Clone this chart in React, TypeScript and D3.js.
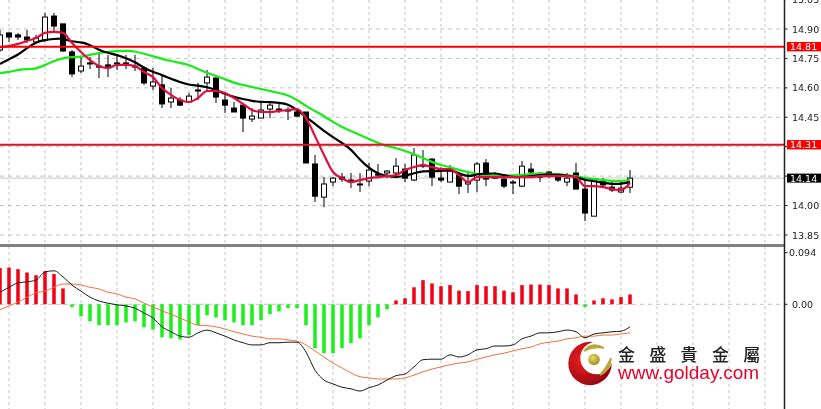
import React from "react";
import * as d3 from "d3";

const opens = [14.793,14.880,14.870,14.859,14.834,14.844,14.966,14.926,14.783,14.686,14.727,14.711,14.717,14.727,14.727,14.711,14.701,14.609,14.615,14.528,14.538,14.528,14.589,14.625,14.650,14.538,14.497,14.512,14.441,14.446,14.492,14.492,14.487,14.477,14.477,14.212,14.043,14.120,14.145,14.130,14.110,14.125,14.161,14.166,14.166,14.186,14.130,14.206,14.237,14.140,14.120,14.155,14.110,14.130,14.217,14.145,14.135,14.120,14.099,14.186,14.150,14.171,14.145,14.120,14.166,14.084,13.946,14.130,14.094,14.069,14.094];
const closes = [14.870,14.859,14.859,14.844,14.854,14.961,14.915,14.788,14.671,14.711,14.722,14.706,14.706,14.722,14.717,14.706,14.625,14.630,14.518,14.548,14.512,14.558,14.584,14.655,14.553,14.512,14.477,14.446,14.456,14.487,14.512,14.487,14.482,14.456,14.217,14.048,14.110,14.140,14.135,14.120,14.105,14.181,14.155,14.176,14.201,14.140,14.258,14.201,14.145,14.130,14.186,14.099,14.120,14.212,14.135,14.140,14.099,14.115,14.201,14.171,14.145,14.161,14.130,14.140,14.084,13.962,14.135,14.105,14.079,14.089,14.140];
const highs = [14.895,14.880,14.880,14.895,14.870,14.982,14.982,14.926,14.793,14.757,14.757,14.778,14.768,14.773,14.768,14.768,14.711,14.701,14.666,14.599,14.553,14.574,14.625,14.691,14.655,14.579,14.528,14.512,14.497,14.528,14.528,14.518,14.502,14.492,14.477,14.258,14.145,14.145,14.166,14.166,14.166,14.217,14.212,14.181,14.242,14.212,14.293,14.283,14.242,14.196,14.206,14.166,14.166,14.222,14.237,14.171,14.145,14.130,14.227,14.217,14.171,14.176,14.166,14.166,14.217,14.130,14.140,14.140,14.130,14.130,14.181];
const lows = [14.783,14.834,14.844,14.829,14.829,14.834,14.880,14.783,14.655,14.676,14.696,14.650,14.655,14.691,14.696,14.686,14.615,14.589,14.497,14.497,14.507,14.523,14.538,14.579,14.523,14.472,14.477,14.375,14.426,14.446,14.446,14.472,14.436,14.451,14.217,14.018,13.992,14.099,14.120,14.089,14.069,14.099,14.140,14.140,14.150,14.120,14.125,14.191,14.099,14.120,14.120,14.059,14.064,14.069,14.099,14.135,14.089,14.059,14.094,14.145,14.120,14.140,14.120,14.099,14.084,13.921,13.946,14.094,14.069,14.064,14.064];

const maSlow = [14.676,14.681,14.691,14.696,14.696,14.717,14.737,14.752,14.757,14.757,14.768,14.778,14.783,14.788,14.788,14.788,14.773,14.762,14.747,14.737,14.727,14.717,14.696,14.676,14.660,14.645,14.625,14.615,14.604,14.594,14.584,14.574,14.564,14.538,14.507,14.482,14.456,14.426,14.400,14.380,14.360,14.339,14.319,14.303,14.293,14.278,14.263,14.242,14.222,14.206,14.196,14.181,14.171,14.161,14.155,14.150,14.150,14.155,14.155,14.161,14.166,14.161,14.161,14.155,14.150,14.140,14.135,14.130,14.125,14.125,14.130];
const maMid = [14.722,14.747,14.768,14.803,14.834,14.844,14.849,14.854,14.834,14.834,14.819,14.793,14.778,14.768,14.752,14.732,14.701,14.681,14.666,14.645,14.630,14.615,14.612,14.604,14.589,14.569,14.553,14.543,14.533,14.528,14.528,14.523,14.518,14.487,14.451,14.416,14.380,14.349,14.319,14.288,14.232,14.191,14.161,14.150,14.145,14.150,14.166,14.176,14.176,14.176,14.181,14.166,14.145,14.161,14.161,14.166,14.155,14.145,14.145,14.150,14.155,14.161,14.155,14.155,14.145,14.130,14.125,14.115,14.110,14.110,14.120];
const maFast = [14.808,14.813,14.824,14.839,14.854,14.880,14.885,14.880,14.829,14.783,14.742,14.711,14.701,14.717,14.717,14.711,14.681,14.655,14.599,14.564,14.538,14.528,14.548,14.584,14.584,14.574,14.548,14.518,14.487,14.477,14.477,14.482,14.487,14.492,14.446,14.354,14.258,14.171,14.140,14.120,14.130,14.140,14.145,14.150,14.155,14.181,14.196,14.206,14.196,14.186,14.186,14.155,14.120,14.145,14.145,14.145,14.145,14.145,14.145,14.145,14.150,14.150,14.150,14.150,14.145,14.099,14.099,14.094,14.084,14.079,14.115];

const macdHist = [.066,.067,.064,.058,.053,.060,.055,.029,-.005,-.022,-.031,-.038,-.038,-.038,-.033,-.031,-.042,-.046,-.060,-.062,-.064,-.056,-.038,-.020,-.024,-.029,-.033,-.038,-.038,-.029,-.018,-.013,-.007,-.007,-.038,-.080,-.089,-.089,-.080,-.071,-.062,-.038,-.024,-.009,.007,.011,.031,.044,.038,.033,.035,.025,.024,.035,.033,.033,.025,.022,.035,.036,.036,.035,.029,.029,.018,-.005,.007,.011,.009,.013,.018];
const macdLine = [.022,.031,.039,.041,.044,.059,.061,.050,.035,.024,.013,.006,.002,-.001,-.003,-.007,-.016,-.025,-.041,-.050,-.058,-.060,-.052,-.047,-.052,-.058,-.065,-.070,-.074,-.074,-.070,-.070,-.069,-.069,-.087,-.120,-.138,-.145,-.151,-.154,-.158,-.152,-.147,-.138,-.130,-.127,-.114,-.101,-.100,-.100,-.092,-.096,-.092,-.083,-.081,-.076,-.076,-.074,-.063,-.058,-.052,-.052,-.050,-.047,-.050,-.061,-.054,-.052,-.050,-.049,-.041];
const signalLine = [-.010,-.003,.004,.013,.021,.024,.031,.037,.037,.035,.031,.028,.022,.019,.013,.010,.002,-.005,-.012,-.018,-.025,-.032,-.038,-.039,-.041,-.045,-.050,-.054,-.058,-.060,-.063,-.063,-.065,-.067,-.074,-.085,-.096,-.107,-.116,-.125,-.132,-.134,-.136,-.136,-.136,-.134,-.129,-.123,-.118,-.114,-.110,-.107,-.105,-.100,-.096,-.092,-.089,-.085,-.081,-.078,-.072,-.069,-.067,-.063,-.061,-.058,-.058,-.056,-.056,-.054,-.052];

const priceTicks = [15.05,14.9,14.75,14.6,14.45,14.3,14.15,14.0,13.85];
const hiddenLabels = [14.3,14.15];
const levels = [14.81,14.31];
const currentPrice = 14.14;
const macdTicks = [0.094,0];
const gridBars = d3.range(1,86,4);
const brandChars = ["金","盛","貴","金","屬"];
const brandUrl = "www.golday.com";

const W = 821, H = 409, axisX = 784.5;
const x = d3.scaleLinear().domain([0,70]).range([0,630]);
const y = d3.scaleLinear().domain([14.9,13.85]).range([29,235]);
const ySub = d3.scaleLinear().domain([0.094,0]).range([252.7,304.3]);
const lineSmooth = d3.line<number>().x((_, i) => x(i)).y(d => y(d)).curve(d3.curveBasis);
const lineFast = d3.line<number>().x((_, i) => x(i)).y(d => y(d)).curve(d3.curveMonotoneX);
const subLine = d3.line<number>().x((_, i) => x(i)).y(d => ySub(d)).curve(d3.curveMonotoneX);

const FONT = "Tahoma, 'DejaVu Sans', sans-serif";

export default function App() {
  return (
    <svg width={W} height={H} viewBox={`0 0 ${W} ${H}`} style={{position:"absolute",left:0,top:0,background:"#fff"}}>
      <defs>
        <filter id="soft" x="-2%" y="-2%" width="104%" height="104%"><feGaussianBlur stdDeviation="0.3"/></filter>
        <radialGradient id="ball" cx="40%" cy="35%" r="70%"><stop offset="0%" stopColor="#e6d86a"/><stop offset="100%" stopColor="#9c8a1c"/></radialGradient>
        <radialGradient id="cres" cx="35%" cy="40%" r="75%"><stop offset="0%" stopColor="#f02020"/><stop offset="100%" stopColor="#8a0010"/></radialGradient>
      </defs>
      <g filter="url(#soft)">
        {gridBars.map(i => (
          <line key={i} x1={9*i} x2={9*i} y1={0} y2={H} stroke="#c4c4c4" strokeWidth={1} strokeDasharray="3 3"/>
        ))}
        {priceTicks.map(t => (
          <line key={t} x1={0} x2={axisX} y1={y(t)} y2={y(t)} stroke="#c4c4c4" strokeWidth={1} strokeDasharray="4 4"/>
        ))}
        <line x1={0} x2={axisX} y1={ySub(0)} y2={ySub(0)} stroke="#c4c4c4" strokeWidth={1} strokeDasharray="4 4"/>
        <line x1={0} x2={axisX} y1={y(currentPrice)} y2={y(currentPrice)} stroke="#c8c8c8" strokeWidth={1}/>

        {opens.map((o,i) => {
          const c = closes[i], top = y(Math.max(o,c)), bot = y(Math.min(o,c));
          const bull = c > o;
          return (
            <g key={i}>
              <line x1={x(i)} x2={x(i)} y1={y(highs[i])} y2={y(lows[i])} stroke="#000" strokeWidth={1}/>
              <rect x={x(i)-2.5} y={top} width={5} height={Math.max(bot-top,1)} fill={bull?"#fff":"#000"} stroke="#000" strokeWidth={1}/>
            </g>
          );
        })}
        <path d={lineSmooth(maSlow)!} fill="none" stroke="#18ec18" strokeWidth={2.2}/>
        <path d={lineSmooth(maMid)!} fill="none" stroke="#000" strokeWidth={2.2}/>
        <path d={lineFast(maFast)!} fill="none" stroke="#e0103c" strokeWidth={2.2}/>
        {levels.map((l,i) => (
          <line key={l} x1={0} x2={axisX} y1={y(l)} y2={y(l)} stroke={i===0?"#f80000":"#d81420"} strokeWidth={2}/>
        ))}

        {macdHist.map((v,i) => (
          <rect key={i} x={x(i)-1.75} width={3.5} y={Math.min(ySub(v),ySub(0))} height={Math.abs(ySub(v)-ySub(0))} fill={v>=0?"#f40012":"#1cf01c"}/>
        ))}
        <path d={subLine(signalLine)!} fill="none" stroke="#f0703c" strokeWidth={1}/>
        <path d={subLine(macdLine)!} fill="none" stroke="#1a1a1a" strokeWidth={1}/>

        <rect x={0} y={244} width={axisX} height={3} fill="#808080"/>
        <line x1={axisX} x2={axisX} y1={0} y2={H} stroke="#222" strokeWidth={1.5}/>
        {priceTicks.map(t => (
          <g key={t}>
            <line x1={axisX} x2={axisX+3} y1={y(t)} y2={y(t)} stroke="#222"/>
            {!hiddenLabels.includes(t) && (
              <text x={792} y={y(t)+3.5} fontFamily={FONT} fontSize={9.5} fill="#222">{t.toFixed(2)}</text>
            )}
          </g>
        ))}
        {macdTicks.map(t => (
          <g key={t}>
            <line x1={axisX} x2={axisX+3} y1={ySub(t)} y2={ySub(t)} stroke="#222"/>
            <text x={t===0?792:789} y={ySub(t)+3.5} fontFamily={FONT} fontSize={9.5} fill="#222">{t===0?"0.00":t.toFixed(3)}</text>
          </g>
        ))}
        {levels.map(l => (
          <g key={l}>
            <rect x={787} y={y(l)-4.7} width={34} height={9.4} fill="#f80000"/>
            <text x={790} y={y(l)+3.5} fontFamily={FONT} fontSize={9.5} fill="#fff">{l.toFixed(2)}</text>
          </g>
        ))}
        <rect x={787} y={y(currentPrice)-4.5} width={34} height={9} fill="#000"/>
        <text x={790} y={y(currentPrice)+3.5} fontFamily={FONT} fontSize={9.5} fill="#fff">{currentPrice.toFixed(2)}</text>

        <circle cx={590} cy={363.5} r={21.7} fill="url(#cres)"/>
        <circle cx={596.5} cy={358} r={16.2} fill="#fff"/>
        <circle cx={594} cy={359.5} r={5.8} fill="url(#ball)"/>
        <path d="M584 351 Q592 341 604 348 Q594 346 584 351 Z" fill="#b8a838" stroke="#b8a838" strokeWidth={1.5}/>
        <path d="M611 358 Q611 370 600 375 Q607 367 611 358 Z" fill="#b8a838" stroke="#b8a838" strokeWidth={1.5}/>
        {brandChars.map((ch,i) => (
          <text key={i} x={618+31.3*i} y={361} fontFamily="'Noto Sans CJK TC', sans-serif" fontSize={17} fontWeight={500} fill="#222">{ch}</text>
        ))}
        <text x={618} y={379} fontFamily="'Liberation Sans', Arial, sans-serif" fontSize={19} fill="#e8002a">{brandUrl}</text>
      </g>
    </svg>
  );
}
